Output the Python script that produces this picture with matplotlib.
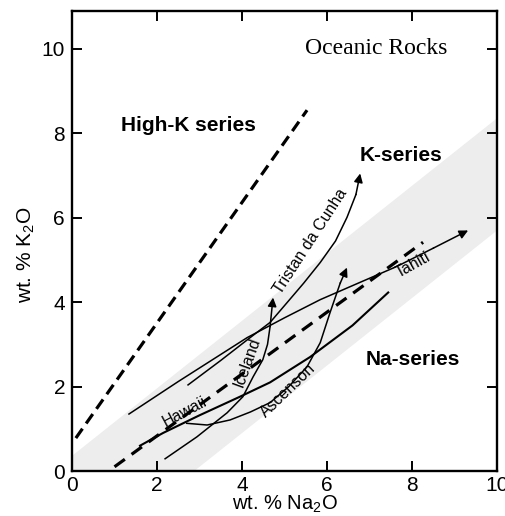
import matplotlib
matplotlib.use('Agg')
import matplotlib.pyplot as plt

plt.rcParams['font.family'] = ['Liberation Sans', 'DejaVu Sans']
plt.rcParams['mathtext.default'] = 'regular'

# series boundaries (wt. % Na2O, wt. % K2O)
high_k_x = [0.09, 5.53]
high_k_y = [0.78, 8.55]
k_na_x = [1.0, 8.26]
k_na_y = [0.1, 5.42]

# grey field of oceanic rocks
band_x = [0, 10]
band_upper = [0.38, 8.38]
band_lower = [-2.28, 5.72]

# island trends
hawaii_x = [1.6, 2.14, 3.0, 3.95, 4.66, 5.6, 6.6, 7.44]
hawaii_y = [0.6, 0.9, 1.32, 1.76, 2.1, 2.7, 3.45, 4.23]

tahiti_x = [1.34, 2.5, 4.12, 5.0, 5.84, 6.8, 7.65, 8.5, 9.32]
tahiti_y = [1.35, 2.12, 3.16, 3.63, 4.06, 4.48, 4.85, 5.28, 5.7]

tristan_x = [2.73, 3.5, 4.19, 4.66, 5.06, 5.45, 5.84, 6.2, 6.47, 6.68, 6.78]
tristan_y = [2.04, 2.62, 3.16, 3.52, 3.99, 4.45, 4.94, 5.45, 6.01, 6.55, 7.05]

iceland_x = [2.19, 2.94, 3.65, 4.02, 4.26, 4.49, 4.6, 4.66, 4.73]
iceland_y = [0.29, 0.81, 1.38, 1.76, 2.23, 2.64, 3.0, 3.42, 4.11]

ascension_x = [2.7, 3.18, 3.72, 4.2, 4.66, 5.1, 5.53, 5.84, 6.07, 6.31, 6.47]
ascension_y = [1.13, 1.09, 1.21, 1.4, 1.62, 2.0, 2.47, 3.04, 3.75, 4.45, 4.82]

fig = plt.figure(figsize=(5.05, 5.16), dpi=100)
ax = fig.add_axes([0.1426, 0.0872, 0.8416, 0.8915])

ax.fill_between(band_x, band_lower, band_upper, color='#ededed', lw=0, zorder=0)

ax.plot(high_k_x, high_k_y, color='k', lw=2.3, linestyle=(0, (3.6, 2.0)), zorder=3)
ax.plot(k_na_x, k_na_y, color='k', lw=2.3, linestyle=(0, (4.0, 2.6)), zorder=3)

ax.plot(hawaii_x, hawaii_y, color='k', lw=1.5, zorder=2)

def trend(xs, ys):
    ax.plot(xs[:-1], ys[:-1], color='k', lw=1.1, zorder=2)
    ax.annotate('', xy=(xs[-1], ys[-1]), xytext=(xs[-2], ys[-2]),
                arrowprops=dict(arrowstyle='-|>', color='k', lw=1.1,
                                mutation_scale=13, shrinkA=0, shrinkB=0))

for xs, ys in [(tahiti_x, tahiti_y), (tristan_x, tristan_y),
               (iceland_x, iceland_y), (ascension_x, ascension_y)]:
    trend(xs, ys)

# labels
lab = dict(fontsize=11.5, ha='center', va='center', zorder=4)
ax.text(2.66, 1.40, 'Hawaii', rotation=28, **lab)
ax.text(4.12, 2.57, 'Iceland', rotation=70, **lab)
ax.text(5.6, 5.45, 'Tristan da Cunha', rotation=57, **lab)
ax.text(5.08, 1.92, 'Ascenson', rotation=44, **lab)
ax.text(8.02, 4.89, 'Tahiti', rotation=29, **lab)

big = dict(fontsize=15, fontweight='bold', ha='center', va='center')
ax.text(2.73, 8.19, 'High-K series', **big)
ax.text(7.74, 7.48, 'K-series', **big)
ax.text(8.02, 2.64, 'Na-series', **big)

ax.text(7.15, 10.0, 'Oceanic Rocks', family='Liberation Serif', fontsize=17,
        ha='center', va='center')

ax.set_xlim(0, 10)
ax.set_ylim(0, 10.9)
ax.set_xticks([0, 2, 4, 6, 8, 10])
ax.set_yticks([0, 2, 4, 6, 8, 10])
ax.tick_params(direction='in', length=7, width=1.4, labelsize=15,
               top=True, right=True, pad=3.5)
ax.tick_params(axis='y', pad=5)
for s in ax.spines.values():
    s.set_linewidth(1.7)

ax.set_xlabel('wt. % Na$_2$O', fontsize=14.5)
ax.set_ylabel('wt. % K$_2$O', fontsize=15)
ax.xaxis.set_label_coords(0.5, -0.05)
ax.yaxis.set_label_coords(-0.083, 0.47)

fig.savefig('out.png', dpi=100)
